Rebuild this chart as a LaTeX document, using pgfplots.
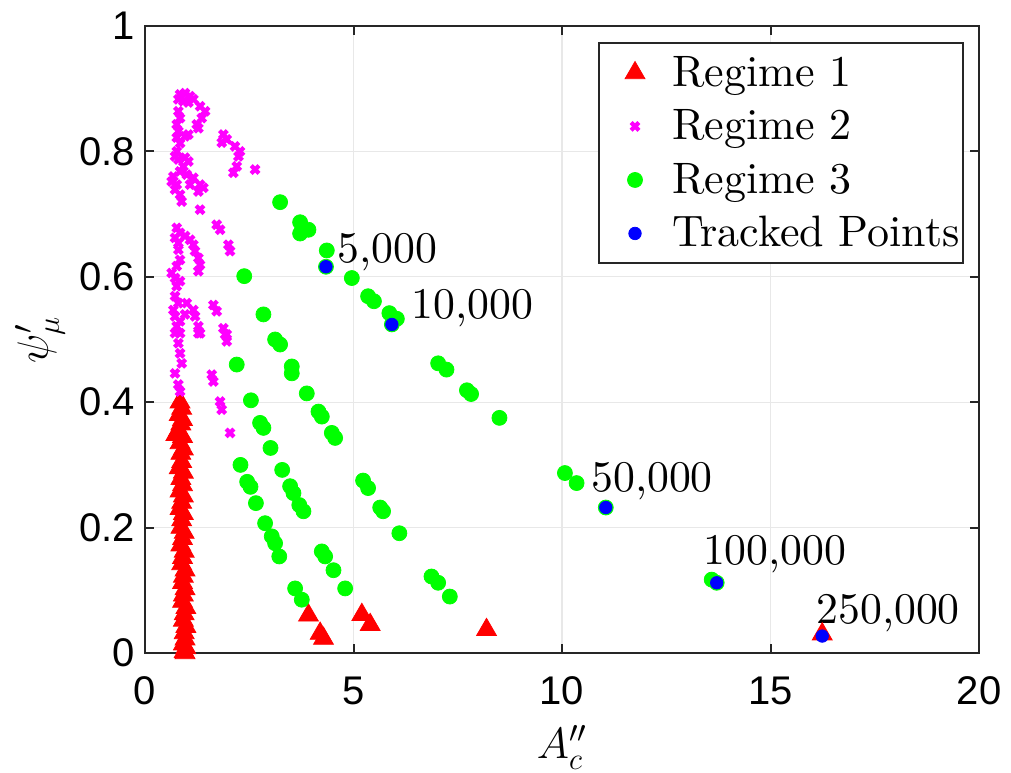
\RequirePackage{fix-cm}
\documentclass[border=0pt]{standalone}
\usepackage{fontspec}
\setmainfont{lmroman10-regular}[Extension=.otf]
\usepackage{pgfplots}
\pgfplotsset{compat=1.18}
\newfontfamily\ticksans{Liberation Sans}
\definecolor{regA}{RGB}{255,0,0}
\definecolor{regB}{RGB}{255,0,255}
\definecolor{regC}{RGB}{0,255,0}
\definecolor{track}{RGB}{0,0,255}
\begin{document}
\begin{tikzpicture}
\begin{axis}[
  scale only axis, width=333.6pt, height=250.8pt,
  xmin=0, xmax=20, ymin=0, ymax=1,
  xtick={0,5,10,15,20}, ytick={0,0.2,0.4,0.6,0.8,1},
  tick align=inside, major tick length=3.6pt,
  grid=major, major grid style={black!9, line width=0.5pt},
  axis line style={black!85, line width=0.8pt},
  tick style={black!85, line width=0.8pt},
  ticklabel style={font=\ticksans\fontsize{16}{16}\selectfont},
  /pgf/number format/assume math mode=true,
  xticklabel style={yshift=-6pt},
  yticklabel style={xshift=-0.5pt},
  xlabel={$A''_c$}, ylabel={$\psi'_\mu$},
  label style={font=\fontsize{17.5}{20}\selectfont},
  xlabel style={at={(axis description cs:0.5,-0.151)}, anchor=center},
  ylabel style={at={(axis description cs:-0.126,0.5)}, anchor=center},
  clip=false,
  legend cell align=left,
  legend image code/.code={\path[draw=none, fill=none] (0pt,-8pt) rectangle (26pt,8pt);
     \draw[#1] plot coordinates {(13pt,0pt)};},
  legend style={at={(axis description cs:0.982,0.9745)}, anchor=north east,
     draw=black!85, line width=0.8pt, fill=white,
     font=\fontsize{17.6}{20}\selectfont,
     inner xsep=1.4pt, inner ysep=4pt, row sep=5.4pt, column sep=2pt,
     nodes={inner sep=0pt}},
]
% Regime 1
\addplot[only marks, mark=triangle*, mark size=4.6pt, line width=0.3pt,
  draw=regA, fill=regA] coordinates {
 (0.84,0.400) (0.88,0.390) (0.82,0.380) (0.90,0.372) (0.86,0.365)
 (0.80,0.355) (0.74,0.348) (0.90,0.345) (0.84,0.335) (0.92,0.325)
 (0.86,0.318) (0.88,0.305) (0.82,0.295) (0.92,0.288) (0.86,0.278)
 (0.90,0.268) (0.84,0.258) (0.92,0.250) (0.88,0.240) (0.84,0.230)
 (0.92,0.222) (0.88,0.212) (0.86,0.200) (0.94,0.192) (0.90,0.182)
 (0.86,0.172) (0.94,0.162) (0.90,0.152) (0.88,0.142) (0.96,0.132)
 (0.92,0.122) (0.90,0.112) (0.96,0.102) (0.92,0.092) (0.90,0.082)
 (0.98,0.072) (0.94,0.062) (0.92,0.052) (0.98,0.042) (0.94,0.032)
 (0.96,0.022) (0.92,0.014) (0.98,0.008) (0.94,0.002) (0.96,0.000)
 (3.92,0.060) (4.20,0.031) (4.28,0.023) (5.20,0.061) (5.40,0.045)
 (8.19,0.037) (16.24,0.030)
};
\addlegendentry{Regime 1}
% Regime 2
\addplot[only marks, mark=x, mark size=2.2pt, line width=1.7pt, regB] coordinates {
 (0.84,0.891) (0.96,0.893) (1.08,0.888) (0.80,0.883) (0.92,0.880)
 (1.04,0.878) (1.16,0.883) (1.32,0.872) (1.44,0.864) (1.36,0.853)
 (1.24,0.843) (1.28,0.837) (0.80,0.864) (0.84,0.853) (0.76,0.843)
 (0.80,0.832) (0.76,0.822) (0.84,0.813) (0.96,0.824) (1.04,0.827)
 (0.76,0.800) (0.72,0.792) (0.80,0.787) (0.96,0.790) (1.04,0.784)
 (0.92,0.776) (0.84,0.768) (0.68,0.760) (0.64,0.752) (0.76,0.747)
 (0.72,0.739) (0.84,0.731) (0.88,0.720) (1.00,0.763) (1.16,0.758)
 (1.32,0.747) (1.40,0.742) (1.28,0.736) (1.08,0.747) (1.32,0.707)
 (1.88,0.827) (1.84,0.814) (1.96,0.819) (2.16,0.808) (2.28,0.800)
 (2.24,0.792) (2.20,0.776) (2.12,0.766) (2.64,0.771)
 (1.72,0.683) (1.80,0.675) (2.00,0.651) (2.04,0.641)
 (0.76,0.678) (0.84,0.670) (0.72,0.662) (0.80,0.654) (0.96,0.665)
 (1.08,0.659) (1.16,0.651) (1.20,0.641) (1.28,0.630) (1.32,0.619)
 (1.28,0.609) (0.80,0.643) (0.84,0.627) (0.76,0.617) (0.64,0.606)
 (0.72,0.598) (0.84,0.593) (0.76,0.585) (0.72,0.569) (0.80,0.558)
 (0.68,0.547) (0.72,0.537) (0.84,0.529) (0.76,0.521) (0.72,0.510)
 (1.00,0.558) (1.16,0.547) (1.20,0.537) (1.28,0.521) (1.32,0.510)
 (0.96,0.540) (1.64,0.555) (1.72,0.545) (1.88,0.518) (1.96,0.508)
 (0.84,0.510) (0.80,0.494) (0.84,0.478) (0.88,0.462) (0.72,0.446)
 (0.80,0.428) (0.84,0.417) (1.28,0.510) (1.92,0.508) (1.96,0.497)
 (1.60,0.444) (1.64,0.433) (1.80,0.401) (1.84,0.388) (2.04,0.351)
};
\addlegendentry{Regime 2}
% Regime 3
\addplot[only marks, mark=*, mark size=3pt, line width=0.3pt,
  draw=regC, fill=regC] coordinates {
 (3.24,0.719) (3.72,0.687) (3.92,0.675) (3.72,0.669) (4.36,0.642)
 (4.34,0.616) (4.96,0.598) (5.35,0.569) (5.49,0.561) (5.86,0.542)
 (6.04,0.533) (5.92,0.524) (7.03,0.462) (7.23,0.452) (7.72,0.419)
 (7.82,0.413) (8.50,0.375) (10.07,0.287) (10.35,0.271) (11.05,0.232)
 (13.59,0.117) (13.71,0.112)
 (2.38,0.601) (2.84,0.540) (3.12,0.500) (3.24,0.492) (3.52,0.457)
 (3.52,0.446) (3.88,0.414) (4.16,0.385) (4.24,0.377) (4.48,0.351)
 (4.56,0.343) (5.23,0.275) (5.35,0.263) (5.64,0.232) (5.71,0.226)
 (6.10,0.191) (6.87,0.122) (7.03,0.112) (7.31,0.090)
 (2.20,0.460) (2.54,0.403) (2.76,0.367) (2.84,0.359) (3.01,0.327)
 (3.29,0.292) (3.48,0.266) (3.56,0.255) (3.70,0.236) (3.80,0.226)
 (4.24,0.162) (4.32,0.154) (4.52,0.132) (4.80,0.103)
 (2.29,0.300) (2.45,0.273) (2.53,0.265) (2.66,0.239) (2.88,0.207)
 (3.04,0.186) (3.12,0.175) (3.22,0.154) (3.60,0.103) (3.76,0.085)
};
\addlegendentry{Regime 3}
% Tracked points
\addplot[only marks, mark=*, mark size=2.5pt, line width=0.3pt,
  draw=track, fill=track] coordinates {
 (4.34,0.616) (5.92,0.524) (11.05,0.232) (13.71,0.112) (16.24,0.027)
};
\addlegendentry{Tracked Points}
\begin{scope}[every node/.style={anchor=base west, inner sep=0pt,
    font=\fontsize{17.5}{20}\selectfont}]
\node at (axis cs:4.61,0.622) {5,000};
\node at (axis cs:6.39,0.534) {10,000};
\node at (axis cs:10.69,0.2575) {50,000};
\node at (axis cs:13.37,0.1405) {100,000};
\node at (axis cs:16.09,0.0474) {250,000};
\end{scope}
\coordinate (sw) at (rel axis cs:0,0);
\coordinate (ne) at (rel axis cs:1,1);
\end{axis}
\pgfresetboundingbox
\path ([shift={(-58pt,-48pt)}]sw) rectangle ([shift={(12.8pt,10.4pt)}]ne);
\end{tikzpicture}
\end{document}
